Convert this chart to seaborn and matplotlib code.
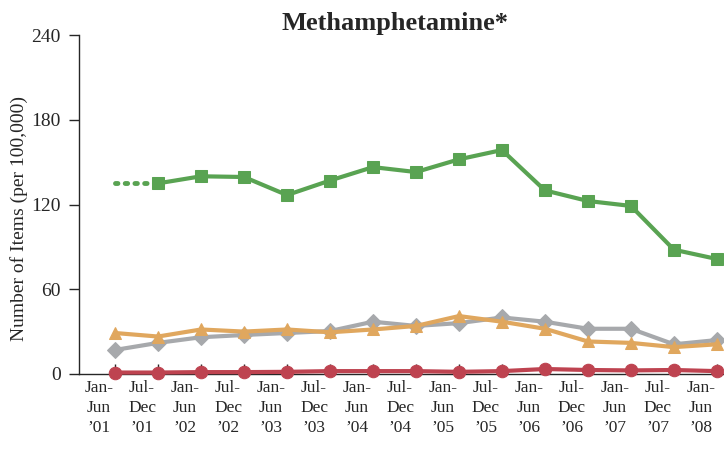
import matplotlib
matplotlib.use("Agg")
import matplotlib.pyplot as plt
import matplotlib.transforms as mtransforms
import seaborn as sns
import pandas as pd

# half-year periods
periods = ["Jan-\nJun\n\u201901", "Jul-\nDec\n\u201901", "Jan-\nJun\n\u201902", "Jul-\nDec\n\u201902",
           "Jan-\nJun\n\u201903", "Jul-\nDec\n\u201903", "Jan-\nJun\n\u201904", "Jul-\nDec\n\u201904",
           "Jan-\nJun\n\u201905", "Jul-\nDec\n\u201905", "Jan-\nJun\n\u201906", "Jul-\nDec\n\u201906",
           "Jan-\nJun\n\u201907", "Jul-\nDec\n\u201907", "Jan-\nJun\n\u201908"]

# green series: first half of '01 only shown as dotted lead-in
green_start = 135
green = [None, 135, 140, 139.5, 126.7, 137, 146.5, 143, 152, 158.6, 130, 122.5, 119, 88, 81.4]
gray = [17, 22, 26, 27.6, 29, 30.4, 37, 34, 36, 40, 37, 32, 32, 21, 24]
orange = [29, 26.5, 31.5, 30, 31.5, 29.5, 31.5, 34, 41, 37, 32, 23, 22, 19, 21]
red = [1, 1, 1.3, 1.3, 1.5, 2, 2, 2, 1.5, 2, 3.5, 2.8, 2.5, 2.8, 2]

sns.set_style("ticks")
plt.rcParams['font.family'] = ['Liberation Serif', 'DejaVu Serif']

fig = plt.figure(figsize=(7.24, 4.5), dpi=100)
ax = fig.add_axes([0.109, 0.169, 0.899, 0.753])

x = list(range(len(periods)))
df = pd.DataFrame({"x": x, "green": green, "gray": gray, "orange": orange, "red": red})

styles = [("gray", "#A7A9AC", "D", 8),
          ("orange", "#E0A75E", "^", 9),
          ("red", "#BE4350", "o", 9),
          ("green", "#59A352", "s", 8.5)]
for col, c, m, ms in styles:
    sns.lineplot(data=df, x="x", y=col, ax=ax, color=c, marker=m, markersize=ms,
                 markeredgecolor=c, linewidth=3, clip_on=False, zorder=3)

# dotted lead-in for green
sns.lineplot(x=[0, 1], y=[green_start, green[1]], ax=ax, color="#59A352",
             linestyle=(0, (0.5, 1.5)), linewidth=3.5, dash_capstyle="round", zorder=2)

ax.set_xlim(-0.84, 14.3)
ax.set_ylim(0, 240)
ax.set_yticks([0, 60, 120, 180, 240])
ax.set_xticks(x)
ax.set_xticklabels(periods, fontsize=12.5, linespacing=1.35)
ax.tick_params(axis="x", direction="in", length=7, width=1, pad=4)
ax.tick_params(axis="y", direction="out", length=7, width=1, labelsize=14, pad=6)
# labels sit a bit left of their ticks, as in the original
shift = mtransforms.ScaledTranslation(-0.16, 0, fig.dpi_scale_trans)
for lab in ax.get_xticklabels():
    lab.set_transform(lab.get_transform() + shift)
ax.set_xlabel("")
ax.set_ylabel("Number of Items (per 100,000)", fontsize=14)
ax.yaxis.set_label_coords(-0.078, 0.46)
ax.set_title("Methamphetamine*", fontsize=19, fontweight="bold", pad=2, x=0.485)
for s in ["top", "right"]:
    ax.spines[s].set_visible(False)
ax.spines["left"].set_linewidth(1)
ax.spines["bottom"].set_linewidth(1)

fig.savefig("out.png", dpi=100)
